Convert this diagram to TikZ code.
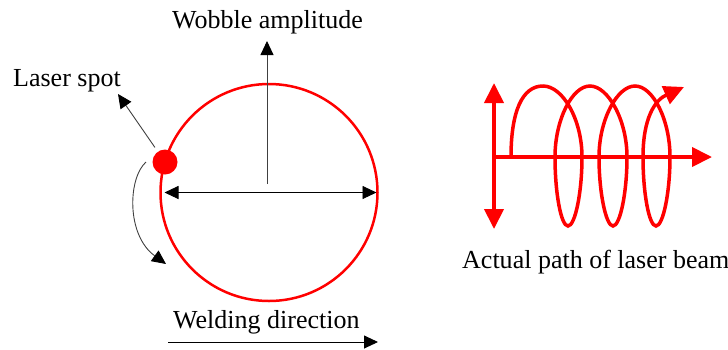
\documentclass[tikz,border=0pt]{standalone}
\usepackage{fontspec}
\setmainfont{Liberation Serif}
\usetikzlibrary{arrows.meta}

\tikzset{
    lbl/.style={anchor=base west, inner sep=0pt, font=\fontsize{26}{31}\selectfont},
    pointer/.style={draw=black!75, line width=0.9pt, -{Triangle[length=14pt, width=13pt, color=black]}},
    pointers/.style={draw=black, line width=0.9pt, {Triangle[length=14pt, width=13pt]}-{Triangle[length=14pt, width=13pt]}},
    redtrace/.style={draw=red, line width=3.5pt},
    bigtip/.style={-{Triangle[length=20pt, width=19pt]}},
}

\begin{document}
\begin{tikzpicture}[x=1pt, y=1pt]
    \useasboundingbox (0,0) rectangle (728,-349);

    % wobble circle and laser spot
    \node[draw=red, line width=2.5pt, circle, minimum size=217pt, inner sep=0pt, outer sep=0pt] at (269,-192.5) (ring) {};
    \node[circle, fill=red, minimum size=25pt, inner sep=0pt] at (165,-162) (spot) {};

    \node[lbl] at (172,-28) (wobble) {Wobble amplitude};
    \node[lbl] at (13,-86) (laser) {Laser spot};
    \node[lbl] at (173,-328) (welding) {Welding direction};
    \node[lbl] at (462,-268) (actual) {Actual path of laser beam};

    \coordinate (ampbase) at (267,-184);
    \coordinate (amptip) at (267,-41);
    \coordinate (spottip) at (118,-94);
    \coordinate (swingstart) at (146,-162);
    \coordinate (swingend) at (166,-264);
    \coordinate (weldstart) at (168,-342);
    \coordinate (weldend) at (378,-342);

    \draw[pointer] (ampbase) -- (amptip);
    \draw[pointers] ([xshift=4pt]ring.west) -- ([xshift=-1pt]ring.east);
    \draw[pointer, shorten <=5pt] (spot) -- (spottip);
    \draw[pointer] (swingstart) .. controls (128,-178) and (126,-235) .. (swingend);
    \draw[draw=black, line width=0.9pt, -{Triangle[length=14pt, width=13pt]}] (weldstart) -- (weldend);

    % actual beam path
    \coordinate (axtop) at (494,-83);
    \coordinate (axbot) at (494,-229);
    \coordinate (axleft) at (494,-157);
    \coordinate (axright) at (712,-157);
    \draw[redtrace, line width=4pt, {Triangle[length=20pt, width=19pt]}-{Triangle[length=20pt, width=19pt]}] (axtop) -- (axbot);
    \draw[redtrace, line width=4pt, bigtip] (axleft) -- (axright);

    \draw[redtrace, bigtip] (511,-157)
        .. controls (511,-112) and (522,-86) .. (543,-86)
        .. controls (563,-86) and (582,-120) .. (582,-157)
        .. controls (582,-193) and (575,-226) .. (568,-226)
        .. controls (561,-226) and (555,-193) .. (555,-157)
        .. controls (555,-120) and (572,-86) .. (590,-86)
        .. controls (608,-86) and (627,-120) .. (627,-157)
        .. controls (627,-193) and (620,-226) .. (613,-226)
        .. controls (606,-226) and (599,-193) .. (599,-157)
        .. controls (599,-120) and (617,-86) .. (635,-86)
        .. controls (653,-86) and (670,-120) .. (670,-157)
        .. controls (670,-193) and (663,-226) .. (656,-226)
        .. controls (649,-226) and (643,-193) .. (643,-157)
        .. controls (643,-118) and (655,-100) .. (684,-87);
\end{tikzpicture}
\end{document}
